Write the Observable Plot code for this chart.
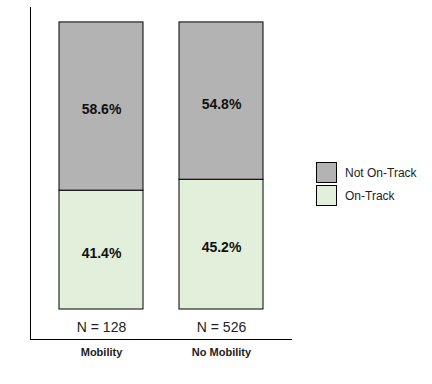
<!DOCTYPE html>
<html><head><meta charset="utf-8">
<script src="https://cdn.jsdelivr.net/npm/d3@7"></script>
<script src="https://cdn.jsdelivr.net/npm/@observablehq/plot@0.6"></script>
<style>
body{margin:0;background:#fff;}
#wrap{position:relative;width:432px;height:384px;font-family:"Liberation Sans",Arial,sans-serif;}
#legend{position:absolute;left:316px;top:162px;font-size:12px;color:#222;}
.item{display:flex;align-items:center;height:21px;margin-bottom:2px;}
.sw{width:19px;height:19px;border:1px solid #000;margin-right:8px;}
</style></head><body><div id="wrap"></div>
<script>
const categories = ["Mobility", "No Mobility"];
const nLabels = ["N = 128", "N = 526"];
const statuses = ["On-Track", "Not On-Track"];
const onTrack = [41.4, 45.2];
const notOnTrack = [58.6, 54.8];
const colors = ["#e2efda", "#b3b3b3"];
const legendOrder = ["Not On-Track", "On-Track"];

const rows = [];
categories.forEach((c, i) => {
  rows.push({category: c, status: "On-Track", value: onTrack[i]});
  rows.push({category: c, status: "Not On-Track", value: notOnTrack[i]});
});
const nRows = categories.map((c, i) => ({category: c, label: nLabels[i]}));

const yMin = -10.45, yMax = 105.2;

const chart = Plot.plot({
  width: 432, height: 384,
  marginLeft: 30, marginRight: 140, marginTop: 7, marginBottom: 45,
  style: {fontFamily: '"Liberation Sans", Arial, sans-serif', background: "white", color: "#000"},
  x: {domain: categories, paddingInner: 0.3, paddingOuter: 0.24, label: null, axis: null},
  y: {domain: [yMin, yMax], axis: null},
  color: {domain: statuses, range: colors},
  marks: [
    Plot.barY(rows, {x: "category", y: "value", fill: "status", z: "status", order: statuses, stroke: "#000", strokeWidth: 1}),
    Plot.text(rows, Plot.stackY({x: "category", y: "value", z: "status", order: statuses,
      text: d => d.value.toFixed(1) + "%", fontWeight: "bold", fontSize: 14, dy: 3, fill: "#111"})),
    Plot.text(nRows, {x: "category", y: 0, text: "label", dy: 18, fontSize: 14, fill: "#222"}),
    Plot.axisX({tickSize: 0, tickPadding: 9, fontSize: 11, fontWeight: "bold", label: null, fill: "#222"}),
    Plot.ruleY([yMin], {stroke: "#000"}),
    Plot.frame({anchor: "left", stroke: "#000"})
  ]
});
const wrap = document.getElementById("wrap");
wrap.appendChild(chart);

const color = chart.scale("color");
const cmap = new Map(color.domain.map((d, i) => [d, color.range[i]]));
const legend = d3.select(wrap).append("div").attr("id", "legend");
const items = legend.selectAll(".item").data(legendOrder).join("div").attr("class", "item");
items.append("div").attr("class", "sw").style("background", d => cmap.get(d));
items.append("span").text(d => d);
</script></body></html>
